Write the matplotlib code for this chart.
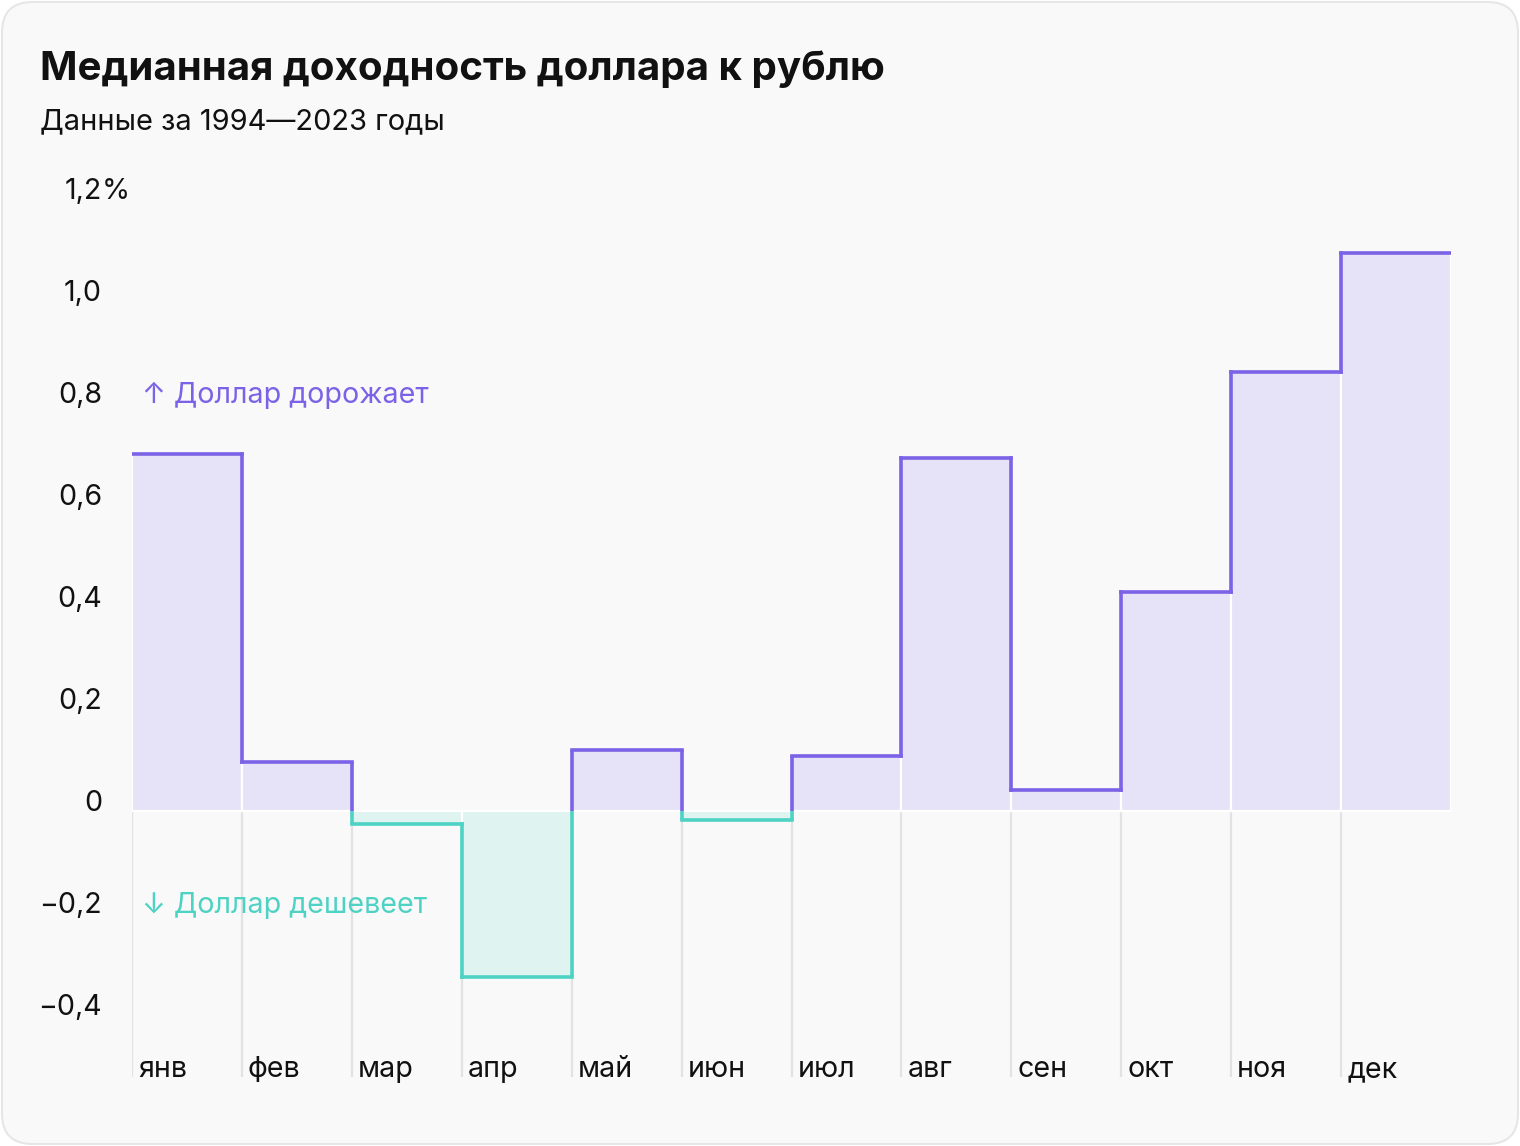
import matplotlib
matplotlib.use("Agg")
import matplotlib.pyplot as plt
from matplotlib.patches import FancyBboxPatch
import numpy as np

plt.rcParams['font.family'] = ['Inter', 'DejaVu Sans']

months = ["янв", "фев", "мар", "апр", "май", "июн", "июл", "авг", "сен", "окт", "ноя", "дек"]
values = [0.70, 0.096, -0.025, -0.325, 0.12, -0.018, 0.108, 0.692, 0.041, 0.43, 0.861, 1.094]
ytick_vals = [1.2, 1.0, 0.8, 0.6, 0.4, 0.2, 0.0, -0.2, -0.4]
ytick_labels = ["1,2", "1,0", "0,8", "0,6", "0,4", "0,2", "0", "−0,2", "−0,4"]

title = "Медианная доходность доллара к рублю"
subtitle = "Данные за 1994—2023 годы"
up_label = "↑ Доллар дорожает"
down_label = "↓ Доллар дешевеет"

PURPLE = "#7b62e6"
PURPLE_FILL = "#e6e2f7"
TEAL = "#4dd2c3"
TEAL_FILL = "#dff3f0"
GRID = "#e2e2e2"
BG = "#f9f9f9"

W, H = 1520, 1146
fig = plt.figure(figsize=(W / 100, H / 100), dpi=100)
fig.patch.set_facecolor("white")

card = FancyBboxPatch((2 / W, 2 / H), (W - 4) / W, (H - 4) / H,
                      boxstyle="round,pad=0,rounding_size=0.02",
                      transform=fig.transFigure, facecolor=BG, edgecolor="#e6e6e6",
                      linewidth=1.5, mutation_aspect=W / H, zorder=-10)
fig.patches.append(card)

ax_left, ax_right = 132, 1451
ax_top, ax_bottom = 199, 1077
ax = fig.add_axes([ax_left / W, 1 - ax_bottom / H, (ax_right - ax_left) / W, (ax_bottom - ax_top) / H])
ax.set_zorder(5)
ax.set_facecolor("none")
ymin = -(ax_bottom - 811) / 510.0
ax.set_xlim(0, 12)
ax.set_ylim(ymin, 1.2)
ax.axis("off")

n = len(values)
x = np.arange(n)

# grey vertical gridlines below zero
ax.vlines(x, ymin, 0, colors=GRID, linewidth=1.6, zorder=1)

# fills
fills = [PURPLE_FILL if v >= 0 else TEAL_FILL for v in values]
ax.bar(x, values, width=1.0, align="edge", color=fills, edgecolor="white",
       linewidth=1.6, zorder=2)

def col(v):
    return PURPLE if v >= 0 else TEAL

lw = 2.6
# horizontal steps
for i, v in enumerate(values):
    ax.plot([i, i + 1], [v, v], color=col(v), linewidth=lw, solid_capstyle="projecting", zorder=4)
# vertical connectors
for i in range(1, n):
    a, b = values[i - 1], values[i]
    if (a >= 0) == (b >= 0):
        ax.plot([i, i], [a, b], color=col(a), linewidth=lw, solid_capstyle="projecting", zorder=4)
    else:
        ax.plot([i, i], [a, 0], color=col(a), linewidth=lw, solid_capstyle="butt", zorder=4)
        ax.plot([i, i], [0, b], color=col(b), linewidth=lw, solid_capstyle="butt", zorder=4)

FS = 20.6
# y tick labels
lab_x = (102 - ax_left) / (ax_right - ax_left)
for v, t in zip(ytick_vals, ytick_labels):
    ax.text(lab_x, v, t, transform=ax.get_yaxis_transform(), ha="right", va="baseline",
            fontsize=FS, color="#111111", clip_on=False)
ax.text(lab_x, 1.2, "%", transform=ax.get_yaxis_transform(), ha="left", va="baseline",
        fontsize=FS, color="#111111", clip_on=False)

# month labels
for i, m in enumerate(months):
    ax.text(i + 0.055, ymin, m, ha="left", va="baseline", fontsize=FS, color="#111111")

# annotations
ann_x = (142 - ax_left) / (ax_right - ax_left)
ax.text(ann_x, 0.8, up_label, transform=ax.get_yaxis_transform(), ha="left", va="baseline",
        fontsize=FS, color=PURPLE, zorder=5)
ax.text(ann_x, -0.2, down_label, transform=ax.get_yaxis_transform(), ha="left", va="baseline",
        fontsize=FS, color=TEAL, zorder=5)

fig.text(40 / W, 1 - 80 / H, title, fontsize=29, fontweight="bold", color="#111111",
         ha="left", va="baseline")
fig.text(40 / W, 1 - 129 / H, subtitle, fontsize=20.9, color="#111111", ha="left", va="baseline")

fig.savefig("out.png", dpi=100, facecolor=fig.get_facecolor())
